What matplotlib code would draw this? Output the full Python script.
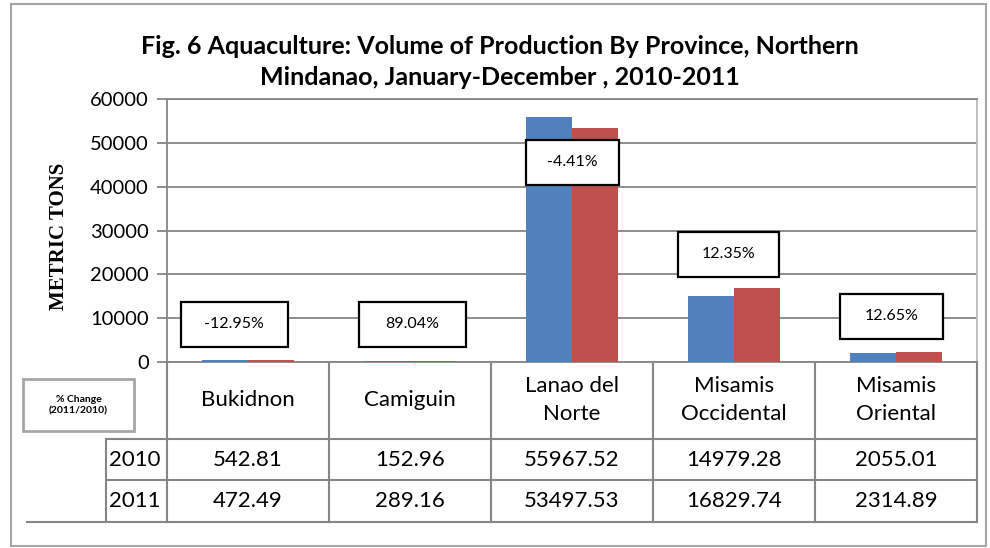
import numpy as np
import matplotlib.pyplot as plt
from matplotlib.transforms import blended_transform_factory
from matplotlib.patches import Rectangle

provinces = ['Bukidnon', 'Camiguin', 'Lanao del\nNorte', 'Misamis\nOccidental', 'Misamis\nOriental']
years = ['2010', '2011']
vol_2010 = [542.81, 152.96, 55967.52, 14979.28, 2055.01]
vol_2011 = [472.49, 289.16, 53497.53, 16829.74, 2314.89]
yticks = [0, 10000, 20000, 30000, 40000, 50000, 60000]

# % change labels: offset from category centre and height (data units), box width in px
box_dx = [-0.085, 0.015, 0.005, -0.035, -0.03]
box_y = [8560, 8560, 45550, 24540, 10390]
box_w = [107, 107, 93, 101, 103]

pct = [(b - a) / a * 100 for a, b in zip(vol_2010, vol_2011)]

plt.rcParams['font.family'] = ['Lato', 'DejaVu Sans']

W, H = 990, 548
fig = plt.figure(figsize=(W / 100, H / 100), dpi=100)


def fx(px):
    return px / W


def fy(py):
    return 1 - py / H


grid_c = '#868686'
ax = fig.add_axes([fx(167), fy(362), fx(977) - fx(167), fy(99) - fy(362)])

x = np.arange(len(provinces))
bw = 1 / 3.5
ax.bar(x - bw / 2, vol_2010, bw, color='#4F81BD', zorder=3)
ax.bar(x + bw / 2, vol_2011, bw, color='#C0504D', zorder=3)
ax.set_xlim(-0.5, 4.5)
ax.set_ylim(0, 60000)
ax.set_yticks(yticks)
ax.set_xticks([])
ax.yaxis.grid(True, color=grid_c, linewidth=1.3)
ax.set_axisbelow(True)
ax.tick_params(axis='y', length=7, width=1.3, color=grid_c, labelsize=14.5, pad=6)
for s in ['left', 'bottom', 'top']:
    ax.spines[s].set_color(grid_c)
    ax.spines[s].set_linewidth(1.3)
ax.spines['right'].set_color('#bcbcbc')
ax.spines['right'].set_linewidth(1.3)

# boxes with % change
px_per_x = (977 - 167) / 5
box_h = 45 / 263 * 60000
for i, p in enumerate(pct):
    cx = i + box_dx[i]
    w = box_w[i] / px_per_x
    ax.add_patch(Rectangle((cx - w / 2, box_y[i] - box_h / 2), w, box_h,
                           fc='white', ec='black', lw=1.6, zorder=5, clip_on=False))
    ax.text(cx, box_y[i], f'{p:.2f}%', ha='center', va='center', fontsize=11.5, zorder=6)

# data table under the axis
tr = blended_transform_factory(ax.transData, ax.transAxes)
r1 = (362 - 439) / 263
r2 = (362 - 480) / 263
r3 = (362 - 522) / 263
x_left = -0.5 - (167 - 106) / px_per_x
x_far = -0.5 - (167 - 27) / px_per_x
lk = dict(color=grid_c, lw=1.5, transform=tr, clip_on=False)
for b in np.arange(len(provinces) + 1) - 0.5:
    ax.plot([b, b], [0, r3], **lk)
ax.plot([x_left, 4.5], [r1, r1], **lk)
ax.plot([x_left, 4.5], [r2, r2], **lk)
ax.plot([x_far, 4.5], [r3, r3], **lk)
ax.plot([x_left, x_left], [r1, r3], **lk)

for i, name in enumerate(provinces):
    ax.text(i, r1 / 2, name, transform=tr, ha='center', va='center',
            fontsize=16, linespacing=1.5)
    ax.text(i, (r1 + r2) / 2, f'{vol_2010[i]:.2f}', transform=tr,
            ha='center', va='center', fontsize=16)
    ax.text(i, (r2 + r3) / 2, f'{vol_2011[i]:.2f}', transform=tr,
            ha='center', va='center', fontsize=16)
ax.text(x_left + 0.02, (r1 + r2) / 2, years[0], transform=tr, ha='left', va='center', fontsize=16)
ax.text(x_left + 0.02, (r2 + r3) / 2, years[1], transform=tr, ha='left', va='center', fontsize=16)

# legend-ish box on the left
fig.add_artist(Rectangle((fx(23), fy(431)), fx(134) - fx(23), fy(379) - fy(431),
                         transform=fig.transFigure, fc='white', ec='#a6a6a6', lw=2))
fig.text(fx(78.5), fy(405), '% Change\n(2011/2010)', ha='center', va='center',
         fontsize=7.5, weight='bold', linespacing=1.3)

# titles
fig.text(fx(500), fy(62),
         'Fig. 6 Aquaculture: Volume of Production By Province, Northern\n'
         'Mindanao, January-December , 2010-2011',
         ha='center', va='center', fontsize=18, weight='bold', linespacing=1.4)
fig.text(fx(59), fy(236), 'METRIC TONS', rotation=90, ha='center', va='center',
         family='Liberation Serif', weight='bold', fontsize=15)

# chart border
fig.add_artist(Rectangle((fx(11), fy(546)), fx(986) - fx(11), fy(4) - fy(546),
                         transform=fig.transFigure, fill=False, ec='#a6a6a6', lw=1.5))

fig.savefig('out.png', dpi=100)
